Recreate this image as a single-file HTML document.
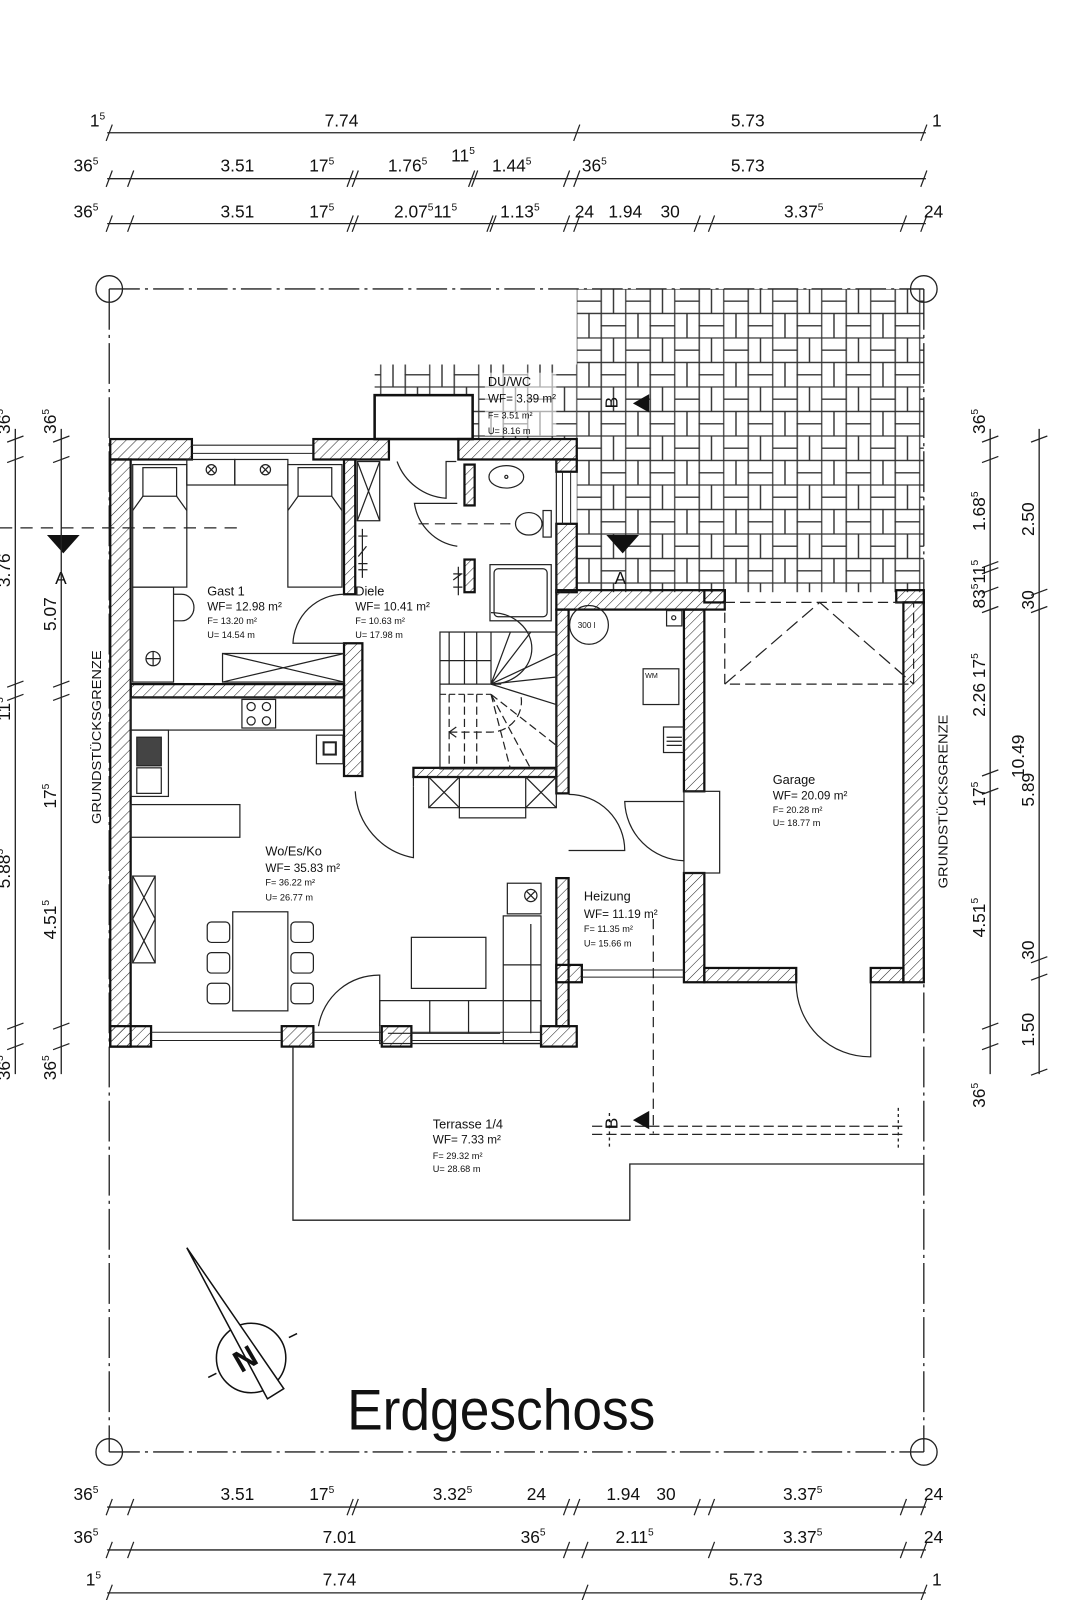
<!DOCTYPE html>
<html><head><meta charset="utf-8"><style>
html,body{margin:0;padding:0;background:#fff;}
svg{display:block;}
text{font-family:"Liberation Sans",sans-serif;fill:#111;}
.d{font-size:17px;}
.s{font-size:10px;}
.r1{font-size:12.5px;}
.r2{font-size:11.5px;}
.r3{font-size:9px;}
</style></head><body>
<svg width="1080" height="1600" viewBox="0 0 1058 1567" preserveAspectRatio="none" xmlns="http://www.w3.org/2000/svg">
<defs>
<pattern id="h" width="7" height="7" patternUnits="userSpaceOnUse" patternTransform="rotate(45)">
<line x1="0" y1="0" x2="0" y2="7" stroke="#222" stroke-width="1"/>
</pattern>
<pattern id="p" x="565" y="283" width="48" height="48" patternUnits="userSpaceOnUse">
<g fill="none" stroke="#333" stroke-width="1.2">
<rect x="0" y="0" width="24" height="12"/><rect x="0" y="12" width="24" height="12"/>
<rect x="24" y="0" width="12" height="24"/><rect x="36" y="0" width="12" height="24"/>
<rect x="0" y="24" width="12" height="24"/><rect x="12" y="24" width="12" height="24"/>
<rect x="24" y="24" width="24" height="12"/><rect x="24" y="36" width="24" height="12"/>
</g></pattern>
</defs>
<rect width="1058" height="1567" fill="#fff"/>

<!-- paving -->
<rect x="565" y="283" width="340" height="297" fill="url(#p)"/>
<rect x="367" y="357" width="198" height="73" fill="url(#p)"/>
<rect x="367" y="387" width="96" height="43" fill="#fff" stroke="#111" stroke-width="2.5"/>
<rect x="475" y="365" width="70" height="62" fill="#fff" opacity="0.6"/>

<!-- property lines -->
<g stroke="#222" stroke-width="1.3" fill="none">
<line x1="107" y1="283" x2="905" y2="283" stroke-dasharray="30,5,3,5"/>
<line x1="107" y1="1422" x2="905" y2="1422" stroke-dasharray="30,5,3,5"/>
<line x1="107" y1="283" x2="107" y2="1422" stroke-dasharray="40,5,3,5"/>
<line x1="905" y1="283" x2="905" y2="1422" stroke-dasharray="40,5,3,5"/>
<circle cx="107" cy="283" r="13"/><circle cx="905" cy="283" r="13"/>
<circle cx="107" cy="1422" r="13"/><circle cx="905" cy="1422" r="13"/>
</g>

<!-- Walls -->
<g fill="url(#h)" stroke="#111" stroke-width="2.2">
<rect x="108" y="430" width="80" height="20"/>
<rect x="307" y="430" width="74" height="20"/>
<rect x="449" y="430" width="116" height="20"/>
<rect x="545" y="450" width="20" height="12"/>
<rect x="545" y="513" width="20" height="67"/>
<rect x="108" y="450" width="20" height="575"/>
<rect x="128" y="670" width="209" height="13"/>
<rect x="337" y="450" width="11" height="132"/>
<rect x="337" y="630" width="18" height="130"/>
<rect x="108" y="1005" width="40" height="20"/>
<rect x="276" y="1005" width="31" height="20"/>
<rect x="374" y="1005" width="29" height="20"/>
<rect x="530" y="1005" width="35" height="20"/>
<rect x="545" y="578" width="165" height="19"/>
<rect x="545" y="597" width="12" height="180"/>
<rect x="545" y="860" width="12" height="145"/>
<rect x="670" y="597" width="20" height="178"/>
<rect x="670" y="855" width="20" height="107"/>
<rect x="690" y="578" width="20" height="12"/>
<rect x="878" y="578" width="27" height="12"/>
<rect x="885" y="590" width="20" height="372"/>
<rect x="690" y="948" width="90" height="14"/>
<rect x="853" y="948" width="32" height="14"/>
<rect x="405" y="752" width="140" height="9"/>
<rect x="455" y="455" width="10" height="40"/>
<rect x="455" y="548" width="10" height="32"/>
<rect x="545" y="945" width="25" height="17"/>
</g>
<!-- windows -->
<g stroke="#222" stroke-width="1" fill="none">
<line x1="188" y1="436" x2="307" y2="436"/><line x1="188" y1="444" x2="307" y2="444"/>
<line x1="148" y1="1011" x2="276" y2="1011"/><line x1="148" y1="1019" x2="276" y2="1019"/>
<line x1="307" y1="1011" x2="374" y2="1011"/><line x1="307" y1="1019" x2="374" y2="1019"/>
<line x1="403" y1="1011" x2="530" y2="1011"/><line x1="403" y1="1019" x2="530" y2="1019"/>
<line x1="551" y1="462" x2="551" y2="513"/><line x1="559" y1="462" x2="559" y2="513"/>
<line x1="570" y1="950" x2="670" y2="950"/><line x1="570" y1="957" x2="670" y2="957"/>
</g>

<!-- Gast furniture -->
<g stroke="#222" stroke-width="1.2" fill="none">
<rect x="130" y="455" width="53" height="120"/><rect x="140" y="458" width="33" height="28"/>
<path d="M130 500 L140 486 M183 500 L173 486"/>
<rect x="282" y="455" width="53" height="120"/><rect x="292" y="458" width="33" height="28"/>
<path d="M282 500 L292 486 M335 500 L325 486"/>
<rect x="183" y="450" width="47" height="25"/><rect x="230" y="450" width="52" height="25"/>
<circle cx="207" cy="460" r="5"/><path d="M203.5 456.5l7 7m0-7l-7 7"/>
<circle cx="260" cy="460" r="5"/><path d="M256.5 456.5l7 7m0-7l-7 7"/>
<rect x="130" y="575" width="40" height="93"/>
<path d="M170 582 h8 a12 13 0 0 1 0 26 h-8"/>
<circle cx="150" cy="645" r="7"/><path d="M143 645h14M150 638v14"/>
<rect x="218" y="640" width="119" height="28"/><path d="M218 640L337 668M218 668L337 640"/>
<path d="M337 582 A50 50 0 0 0 287 630 L337 630" />
<line x1="0" y1="517" x2="240" y2="517" stroke-dasharray="12,8"/>
</g>

<!-- Diele -->
<g stroke="#222" stroke-width="1.2" fill="none">
<rect x="350" y="452" width="22" height="58"/><path d="M350 452L372 510M372 452L350 510"/>
<path d="M355 518v48M351 525h9M351 552h9M351 558h9M351 545l8-10"/>
<path d="M447 452 L437 452 L437 488 A55 55 0 0 1 389 452"/>
<path d="M448 535 A50 50 0 0 1 406 493 L448 493"/>
<path d="M449 555v28M444 562h9M444 575h9M444 568l8-6"/>
<rect x="431" y="619" width="114" height="134"/>
<path d="M431 647h50M431 670h60M440 619v51M455 619v51M467 619v51M481 619v51M481 670L545 690M481 670L500 619M481 670L520 619M481 670L545 640M481 670L545 663"/>
<path d="M431 680h50" stroke-dasharray="6,3"/>
<path d="M440 680v73M455 680v73M467 680v73M481 680L545 730M481 680L520 753M481 680L500 753" stroke-dasharray="8,4"/>
<path d="M481 670 A40 35 0 0 0 481 600" />
<path d="M440 717h40 A30 30 0 0 0 510 680" stroke-dasharray="8,4"/>
<path d="M440 717l7-5M440 717l7 5"/>
<rect x="420" y="761" width="125" height="30"/><path d="M420 761l30 30M450 761l-30 30M515 761l30 30M545 761l-30 30"/><rect x="450" y="761" width="65" height="40"/>
<path d="M405 770 L405 840 A70 70 0 0 1 348 775"/>
<line x1="405" y1="761" x2="405" y2="770"/>
</g>

<!-- Bath -->
<g stroke="#222" stroke-width="1.2" fill="none">
<ellipse cx="496" cy="467" rx="17" ry="11"/><circle cx="496" cy="467" r="1.5"/>
<ellipse cx="518" cy="513" rx="13" ry="11"/><rect x="532" y="500" width="8" height="26"/>
<rect x="480" y="553" width="60" height="55"/><rect x="484" y="557" width="52" height="47" rx="4"/>
<line x1="410" y1="513" x2="500" y2="513" stroke-dasharray="10,6"/>
<line x1="545" y1="450" x2="545" y2="580"/>
</g>

<!-- Living -->
<g stroke="#222" stroke-width="1.2" fill="none">
<rect x="128" y="683" width="209" height="32"/>
<rect x="237" y="685" width="33" height="28"/>
<circle cx="246" cy="692" r="4"/><circle cx="261" cy="692" r="4"/><circle cx="246" cy="706" r="4"/><circle cx="261" cy="706" r="4"/>
<rect x="128" y="715" width="37" height="65"/>
<rect x="134" y="722" width="24" height="28" fill="#444"/><rect x="134" y="752" width="24" height="25"/>
<rect x="128" y="788" width="107" height="32"/>
<rect x="310" y="720" width="26" height="28"/><rect x="317" y="727" width="12" height="12" stroke-width="2"/>
<rect x="130" y="858" width="22" height="85"/><path d="M130 858L152 900M152 858L130 900M130 900L152 943M152 900L130 943"/>
<rect x="228" y="893" width="54" height="97"/>
<rect x="203" y="903" width="22" height="20" rx="4"/><rect x="203" y="933" width="22" height="20" rx="4"/><rect x="203" y="963" width="22" height="20" rx="4"/>
<rect x="285" y="903" width="22" height="20" rx="4"/><rect x="285" y="933" width="22" height="20" rx="4"/><rect x="285" y="963" width="22" height="20" rx="4"/>
<rect x="403" y="918" width="73" height="50"/>
<rect x="372" y="980" width="158" height="42"/>
<rect x="493" y="897" width="37" height="125"/>
<path d="M380 1012h110M421 980v32M459 980v32M520 905v107M493 945h37M493 980h37"/>
<rect x="497" y="865" width="33" height="30"/><circle cx="520" cy="877" r="6"/><path d="M516 873l8 8m0-8l-8 8"/>
<path d="M372 1005 L372 955 A60 60 0 0 0 312 1005"/>
</g>

<!-- Heizung -->
<g stroke="#222" stroke-width="1.2" fill="none">
<circle cx="577" cy="612" r="19"/>
<rect x="653" y="598" width="15" height="15"/><circle cx="660" cy="605" r="2"/>
<rect x="630" y="655" width="35" height="35"/>
<rect x="650" y="712" width="20" height="25"/><path d="M653 722h15M653 726h15M653 730h15"/>
<path d="M612 785 A60 60 0 0 0 670 843 L670 785 Z" fill="none"/>
<path d="M557 778 A55 55 0 0 1 612 833 L557 833" />
<rect x="670" y="775" width="35" height="80"/>
<line x1="640" y1="900" x2="640" y2="1110" stroke-dasharray="10,6"/>
</g>
<text x="566" y="615" style="font-size:8px">300 l</text>
<text x="632" y="664" style="font-size:7px">WM</text>

<!-- Garage -->
<g stroke="#222" stroke-width="1.2" fill="none">
<rect x="710" y="590" width="185" height="80" stroke-dasharray="10,5"/>
<path d="M710 670 L803 590 L895 670" stroke-dasharray="14,6"/>
<path d="M853 962 L853 1035 A72 72 0 0 1 780 962"/>
</g>

<!-- Terrace -->
<g stroke="#222" stroke-width="1.3" fill="none">
<path d="M287 1025 V1195 H617 V1140 H905"/>
<path d="M580 1103 H885 M580 1111 H885" stroke-dasharray="10,4"/>
<line x1="597" y1="1090" x2="597" y2="1125" stroke-dasharray="3,3"/>
<line x1="880" y1="1085" x2="880" y2="1125" stroke-dasharray="3,3"/>
</g>

<!-- Section markers -->
<g fill="#111">
<polygon points="620,395 636,386 636,404"/>
<polygon points="620,1097 636,1088 636,1106"/>
<polygon points="46,524 78,524 62,542"/>
<polygon points="594,524 626,524 610,542"/>
</g>
<text class="d" x="0" y="0" transform="translate(605,400) rotate(-90)">B</text>
<text class="d" x="0" y="0" transform="translate(605,1106) rotate(-90)">B</text>
<text class="d" x="54" y="572">A</text>
<text class="d" x="602" y="572">A</text>

<!-- North arrow -->
<g stroke="#111" stroke-width="1.5" fill="none">
<circle cx="246" cy="1330" r="34"/>
<polygon points="183,1222 262,1370 278,1360" fill="#fff"/>
<path d="M212 1345l-8 4M283 1310l8-4"/>
</g>
<text x="0" y="0" transform="translate(236,1345) rotate(-30)" style="font-size:30px;font-weight:bold">N</text>

<text x="340" y="1400" style="font-size:56px" textLength="302" lengthAdjust="spacingAndGlyphs">Erdgeschoss</text>

<!-- Room labels -->
<text class="r1" x="203" y="583">Gast 1</text>
<text class="r2" x="203" y="598">WF= 12.98 m²</text>
<text class="r3" x="203" y="611">F= 13.20 m²</text>
<text class="r3" x="203" y="625">U= 14.54 m</text>
<text class="r1" x="348" y="583">Diele</text>
<text class="r2" x="348" y="598">WF= 10.41 m²</text>
<text class="r3" x="348" y="611">F= 10.63 m²</text>
<text class="r3" x="348" y="625">U= 17.98 m</text>
<text class="r1" x="478" y="378">DU/WC</text>
<text class="r2" x="478" y="394">WF= 3.39 m²</text>
<text class="r3" x="478" y="410">F= 3.51 m²</text>
<text class="r3" x="478" y="425">U= 8.16 m</text>
<text class="r1" x="260" y="838">Wo/Es/Ko</text>
<text class="r2" x="260" y="854">WF= 35.83 m²</text>
<text class="r3" x="260" y="867">F= 36.22 m²</text>
<text class="r3" x="260" y="882">U= 26.77 m</text>
<text class="r1" x="572" y="882">Heizung</text>
<text class="r2" x="572" y="899">WF= 11.19 m²</text>
<text class="r3" x="572" y="913">F= 11.35 m²</text>
<text class="r3" x="572" y="927">U= 15.66 m</text>
<text class="r1" x="757" y="768">Garage</text>
<text class="r2" x="757" y="783">WF= 20.09 m²</text>
<text class="r3" x="757" y="796">F= 20.28 m²</text>
<text class="r3" x="757" y="809">U= 18.77 m</text>
<text class="r1" x="424" y="1105">Terrasse 1/4</text>
<text class="r2" x="424" y="1120">WF= 7.33 m²</text>
<text class="r3" x="424" y="1135">F= 29.32 m²</text>
<text class="r3" x="424" y="1148">U= 28.68 m</text>
<text x="0" y="0" transform="translate(99,807) rotate(-90)" style="font-size:13px" textLength="170" lengthAdjust="spacingAndGlyphs">GRUNDSTÜCKSGRENZE</text>
<text x="0" y="0" transform="translate(928,870) rotate(-90)" style="font-size:13px" textLength="170" lengthAdjust="spacingAndGlyphs">GRUNDSTÜCKSGRENZE</text>

<!-- Dimension lines -->
<g stroke="#222" stroke-width="1.3">
<line x1="105" y1="130" x2="907" y2="130"/>
<line x1="105" y1="175" x2="907" y2="175"/>
<line x1="105" y1="219" x2="907" y2="219"/>
<line x1="105" y1="1476" x2="907" y2="1476"/>
<line x1="105" y1="1518" x2="907" y2="1518"/>
<line x1="105" y1="1560" x2="907" y2="1560"/>
<line x1="60" y1="420" x2="60" y2="1052"/>
<line x1="15" y1="420" x2="15" y2="1052"/>
<line x1="970" y1="420" x2="970" y2="1052"/>
<line x1="1018" y1="420" x2="1018" y2="1052"/>
</g>
<g stroke="#222" stroke-width="1.2">
<path d="M104 138l6-16M562 138l6-16M902 138l6-16"/>
<path d="M104 183l6-16M125 183l6-16M340 183l6-16M345 183l6-16M459 183l6-16M462 183l6-16M552 183l6-16M562 183l6-16M902 183l6-16"/>
<path d="M104 227l6-16M125 227l6-16M340 227l6-16M345 227l6-16M477 227l6-16M480 227l6-16M552 227l6-16M562 227l6-16M680 227l6-16M694 227l6-16M882 227l6-16M902 227l6-16"/>
<path d="M104 1484l6-16M125 1484l6-16M340 1484l6-16M345 1484l6-16M552 1484l6-16M562 1484l6-16M680 1484l6-16M694 1484l6-16M882 1484l6-16M902 1484l6-16"/>
<path d="M104 1526l6-16M125 1526l6-16M552 1526l6-16M570 1526l6-16M694 1526l6-16M882 1526l6-16M902 1526l6-16"/>
<path d="M104 1568l6-16M570 1568l6-16M902 1568l6-16"/>
<path d="M52 433l16-6M52 453l16-6M52 673l16-6M52 686l16-6M52 1008l16-6M52 1028l16-6"/>
<path d="M7 433l16-6M7 453l16-6M7 673l16-6M7 686l16-6M7 1008l16-6M7 1028l16-6"/>
<path d="M962 433l16-6M962 453l16-6M962 556l16-6M962 562l16-6M962 581l16-6M962 600l16-6M962 760l16-6M962 778l16-6M962 1008l16-6M962 1028l16-6"/>
<path d="M1010 433l16-6M1010 583l16-6M1010 600l16-6M1010 943l16-6M1010 960l16-6M1010 1053l16-6"/>
</g>
<g class="d">
<text x="88" y="124">1<tspan class="s" dy="-7">5</tspan></text>
<text x="318" y="124">7.74</text>
<text x="716" y="124">5.73</text>
<text x="913" y="124">1</text>

<text x="72" y="168">36<tspan class="s" dy="-7">5</tspan></text>
<text x="216" y="168">3.51</text>
<text x="303" y="168">17<tspan class="s" dy="-7">5</tspan></text>
<text x="380" y="168">1.76<tspan class="s" dy="-7">5</tspan></text>
<text x="442" y="158">11<tspan class="s" dy="-7">5</tspan></text>
<text x="482" y="168">1.44<tspan class="s" dy="-7">5</tspan></text>
<text x="570" y="168">36<tspan class="s" dy="-7">5</tspan></text>
<text x="716" y="168">5.73</text>

<text x="72" y="213">36<tspan class="s" dy="-7">5</tspan></text>
<text x="216" y="213">3.51</text>
<text x="303" y="213">17<tspan class="s" dy="-7">5</tspan></text>
<text x="386" y="213">2.07<tspan class="s" dy="-7">5</tspan><tspan dy="7">11</tspan><tspan class="s" dy="-7">5</tspan></text>
<text x="490" y="213">1.13<tspan class="s" dy="-7">5</tspan></text>
<text x="563" y="213">24</text>
<text x="596" y="213">1.94</text>
<text x="647" y="213">30</text>
<text x="768" y="213">3.37<tspan class="s" dy="-7">5</tspan></text>
<text x="905" y="213">24</text>

<text x="72" y="1469">36<tspan class="s" dy="-7">5</tspan></text>
<text x="216" y="1469">3.51</text>
<text x="303" y="1469">17<tspan class="s" dy="-7">5</tspan></text>
<text x="424" y="1469">3.32<tspan class="s" dy="-7">5</tspan></text>
<text x="516" y="1469">24</text>
<text x="594" y="1469">1.94</text>
<text x="643" y="1469">30</text>
<text x="767" y="1469">3.37<tspan class="s" dy="-7">5</tspan></text>
<text x="905" y="1469">24</text>

<text x="72" y="1511">36<tspan class="s" dy="-7">5</tspan></text>
<text x="316" y="1511">7.01</text>
<text x="510" y="1511">36<tspan class="s" dy="-7">5</tspan></text>
<text x="603" y="1511">2.11<tspan class="s" dy="-7">5</tspan></text>
<text x="767" y="1511">3.37<tspan class="s" dy="-7">5</tspan></text>
<text x="905" y="1511">24</text>

<text x="84" y="1553">1<tspan class="s" dy="-7">5</tspan></text>
<text x="316" y="1553">7.74</text>
<text x="714" y="1553">5.73</text>
<text x="913" y="1553">1</text>
</g>
<g class="d">
<text transform="translate(55,425) rotate(-90)">36<tspan class="s" dy="-7">5</tspan></text>
<text transform="translate(55,618) rotate(-90)">5.07</text>
<text transform="translate(55,792) rotate(-90)">17<tspan class="s" dy="-7">5</tspan></text>
<text transform="translate(55,920) rotate(-90)">4.51<tspan class="s" dy="-7">5</tspan></text>
<text transform="translate(55,1058) rotate(-90)">36<tspan class="s" dy="-7">5</tspan></text>
<text transform="translate(10,425) rotate(-90)">36<tspan class="s" dy="-7">5</tspan></text>
<text transform="translate(10,575) rotate(-90)">3.76</text>
<text transform="translate(10,706) rotate(-90)">11<tspan class="s" dy="-7">5</tspan></text>
<text transform="translate(10,870) rotate(-90)">5.88<tspan class="s" dy="-7">5</tspan></text>
<text transform="translate(10,1058) rotate(-90)">36<tspan class="s" dy="-7">5</tspan></text>

<text transform="translate(965,425) rotate(-90)">36<tspan class="s" dy="-7">5</tspan></text>
<text transform="translate(965,520) rotate(-90)">1.68<tspan class="s" dy="-7">5</tspan></text>
<text transform="translate(965,596) rotate(-90)">83<tspan class="s" dy="-7">5</tspan><tspan dy="7">11</tspan><tspan class="s" dy="-7">5</tspan></text>
<text transform="translate(965,702) rotate(-90)">2.26  17<tspan class="s" dy="-7">5</tspan></text>
<text transform="translate(965,790) rotate(-90)">17<tspan class="s" dy="-7">5</tspan></text>
<text transform="translate(965,918) rotate(-90)">4.51<tspan class="s" dy="-7">5</tspan></text>
<text transform="translate(965,1085) rotate(-90)">36<tspan class="s" dy="-7">5</tspan></text>
<text transform="translate(1013,525) rotate(-90)">2.50</text>
<text transform="translate(1013,597) rotate(-90)">30</text>
<text transform="translate(1013,790) rotate(-90)">5.89</text>
<text transform="translate(1013,940) rotate(-90)">30</text>
<text transform="translate(1013,1025) rotate(-90)">1.50</text>
<text transform="translate(1003,762) rotate(-90)">10.49</text>
</g>
</svg>
</body></html>
